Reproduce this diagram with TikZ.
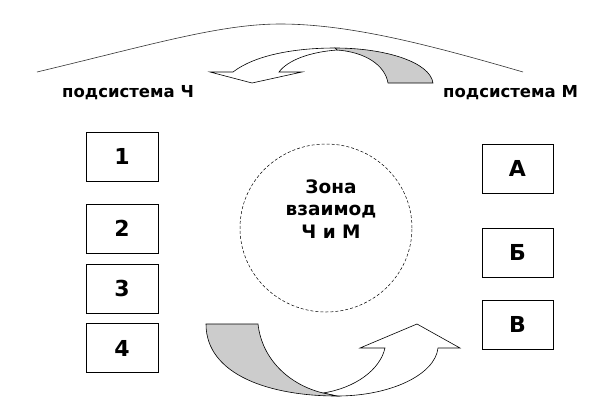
\documentclass[tikz,border=0pt]{standalone}
\usepackage{fontspec}
\setmainfont{DejaVu Sans}
\usetikzlibrary{shapes.geometric}
\begin{document}
\begin{tikzpicture}[x=1pt,y=-1pt,
  numbox/.style={draw=black,line width=0.6pt,minimum width=72pt,minimum height=49pt,inner sep=0pt,font=\fontsize{22}{22}\selectfont\bfseries},
  sublabel/.style={anchor=base west,inner sep=0pt,font=\fontsize{16.5}{16.5}\selectfont\bfseries},
  arrowline/.style={draw=black,line width=0.6pt,line join=miter},
  zonestyle/.style={ellipse,draw=black,line width=0.5pt,dash pattern=on 3pt off 2pt,minimum width=172pt,minimum height=168pt,inner sep=0pt}
]
\useasboundingbox (0,0) rectangle (616,408);
% top arc
\draw[line width=0.6pt,black!80] (37,72) .. controls (150,45) and (220,24) .. (280,24) .. controls (350,24) and (430,45) .. (523,72);
% labels
\node[sublabel] (lch) at (62,97) {подсистема Ч};
\node[sublabel] (lm) at (443,97) {подсистема М};
% top arrow
\filldraw[arrowline,fill=black!20] (335,48) .. controls (385,48) and (430,62) .. (433,83) -- (388,83) .. controls (385,65) and (365,52) .. (337,50) -- cycle;
\filldraw[arrowline,fill=white] (252,83) -- (210,72) -- (233,72) .. controls (255,55) and (295,48) .. (335,48) -- (337,50) .. controls (310,52) and (288,60) .. (279,72) -- (302,72) -- cycle;
% left boxes
\node[numbox] (n1) at (122,156.5) {1};
\node[numbox] (n2) at (122,228.5) {2};
\node[numbox] (n3) at (122,288.5) {3};
\node[numbox] (n4) at (122,348) {4};
% right boxes
\node[numbox,minimum width=71pt] (ma) at (517.5,168.5) {А};
\node[numbox,minimum width=71pt] (mb) at (517.5,252.5) {Б};
\node[numbox,minimum width=71pt] (mv) at (517.5,324.5) {В};
% zone
\node[zonestyle] (zone) at (326,228) {};
\node[align=center,inner sep=0pt,font=\fontsize{18.5}{22.5}\selectfont\bfseries] (zt) at (331,209) {Зона\\взаимод\\Ч и М};
% bottom arrow
\filldraw[arrowline,fill=white] (323,393) .. controls (355,388) and (380,370) .. (385,348) -- (360,348) -- (417,324) -- (460,348) -- (438,348) .. controls (435,375) and (390,396) .. (337,396) -- cycle;
\filldraw[arrowline,fill=black!20] (206,324) -- (258,324) .. controls (262,360) and (290,385) .. (323,393) -- (337,396) .. controls (270,396) and (206,375) .. (206,324) -- cycle;
\end{tikzpicture}
\end{document}
